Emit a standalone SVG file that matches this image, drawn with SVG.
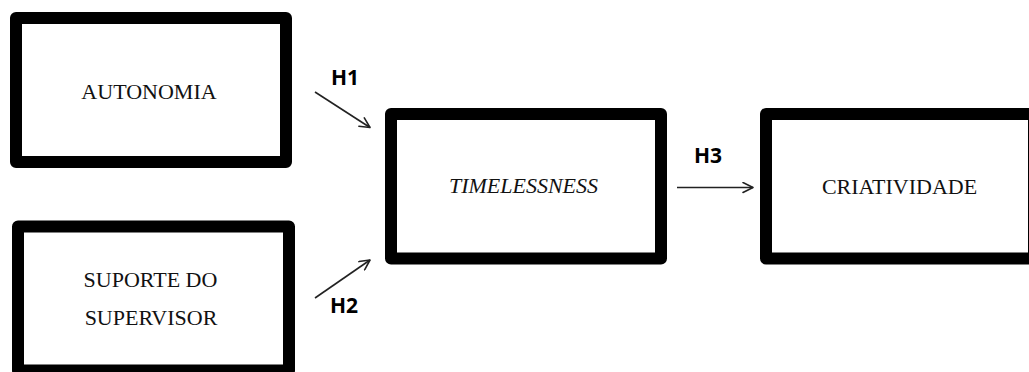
<svg xmlns="http://www.w3.org/2000/svg" width="1029" height="372" viewBox="0 0 1029 372">
  <style>
    .box { fill: #ffffff; stroke: #000000; stroke-width: 12; stroke-linejoin: round; }
    .label { font-family: "Liberation Serif", "Times New Roman", serif; font-size: 22px; fill: #111111; text-anchor: middle; }
    .hyp { font-family: "Open Sans", "Liberation Sans", sans-serif; font-weight: bold; font-size: 21px; fill: #000000; }
    .link { stroke: #222222; stroke-width: 1.6; fill: none; marker-end: url(#chevron); }
  </style>
  <defs>
    <marker id="chevron" viewBox="0 0 12 12" refX="11" refY="6" markerWidth="12" markerHeight="12" markerUnits="userSpaceOnUse" orient="auto">
      <path d="M1,1 L11,6 L1,11" fill="none" stroke="#222222" stroke-width="1.6" stroke-linecap="round" stroke-linejoin="round"/>
    </marker>
  </defs>
  <rect width="1029" height="372" fill="#ffffff"/>

  <g id="autonomia">
    <rect class="box" x="16" y="18" width="270" height="144"/>
    <text class="label" x="149" y="99">AUTONOMIA</text>
  </g>

  <g id="suporte-supervisor">
    <rect class="box" x="18" y="226.5" width="271" height="144"/>
    <text class="label" x="150.5" y="287">SUPORTE DO</text>
    <text class="label" x="151" y="325">SUPERVISOR</text>
  </g>

  <g id="timelessness">
    <rect class="box" x="391" y="114" width="270" height="144.5"/>
    <text class="label" x="523.5" y="193" font-style="italic">TIMELESSNESS</text>
  </g>

  <g id="criatividade">
    <rect class="box" x="766" y="114" width="268" height="144.5"/>
    <text class="label" x="899.5" y="194">CRIATIVIDADE</text>
  </g>

  <g id="connectors">
    <line class="link" x1="315" y1="92" x2="370" y2="127.5"/>
    <line class="link" x1="315" y1="298" x2="370" y2="260"/>
    <line class="link" x1="677" y1="187.5" x2="753" y2="187.5"/>
    <text class="hyp" x="331" y="85">H1</text>
    <text class="hyp" x="330" y="313">H2</text>
    <text class="hyp" x="694" y="163">H3</text>
  </g>
</svg>
